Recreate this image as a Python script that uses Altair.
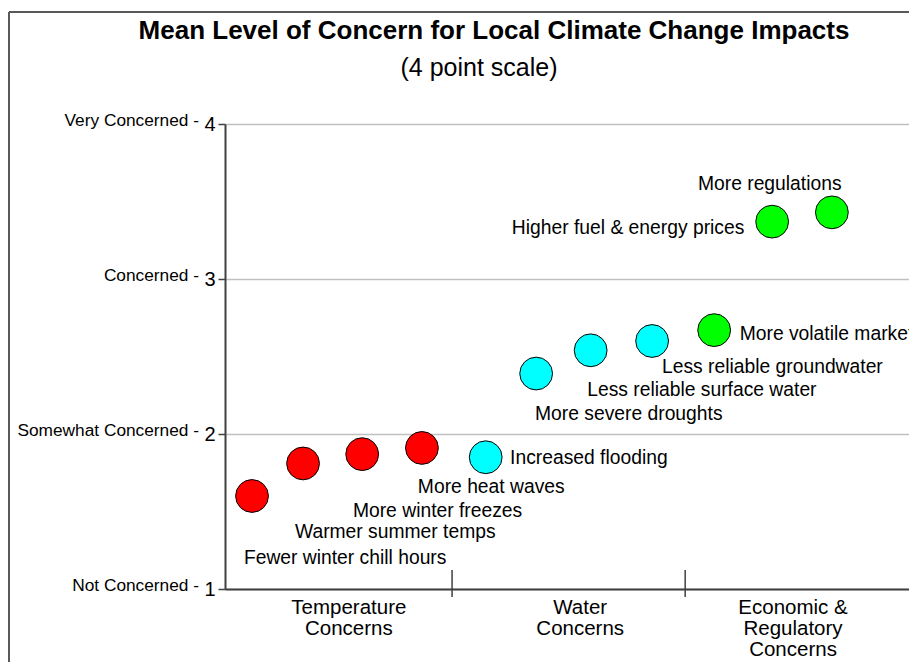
import altair as alt
import pandas as pd

# ---- data ----
title_text = "Mean Level of Concern for Local Climate Change Impacts"
subtitle_text = "(4 point scale)"

concerns = [
    "Fewer winter chill hours", "Warmer summer temps", "More winter freezes",
    "More heat waves", "Increased flooding", "More severe droughts",
    "Less reliable surface water", "Less reliable groundwater",
    "More volatile markets", "Higher fuel & energy prices", "More regulations",
]
groups = ["Temperature"] * 4 + ["Water"] * 4 + ["Economic"] * 3
means = [1.60, 1.81, 1.87, 1.91, 1.85, 2.39, 2.54, 2.60, 2.67, 3.37, 3.43]
positions = [1.0, 1.88, 2.9, 3.93, 5.03, 5.9, 6.84, 7.9, 8.97, 9.97, 11.0]
label_x = [0.86, 1.74, 2.74, 3.86, 5.45, 5.88, 6.78, 8.07, 9.41, 5.48, 8.69]
label_y = [1.203, 1.365, 1.506, 1.655, 1.842, 2.132, 2.287, 2.435, 2.642, 3.332, 3.616]

levels = [1, 2, 3, 4]
level_names = ["Not Concerned -", "Somewhat Concerned -", "Concerned -", "Very Concerned -"]

separators = [4.45, 8.47]
group_names = [["Temperature", "Concerns"], ["Water", "Concerns"],
               ["Economic &", "Regulatory", "Concerns"]]
group_x = [2.67, 6.66, 10.33]

group_domain = ["Temperature", "Water", "Economic"]
group_colors = ["#ff0000", "#00ffff", "#00ff00"]

FONT = "Liberation Sans"
AXIS_COL = "#404040"

df = pd.DataFrame({
    "concern": concerns, "group": groups, "mean": means, "pos": positions,
    "lx": label_x, "ly": label_y,
})
df_levels = pd.DataFrame({"level": levels, "name": level_names})
df_sep = pd.DataFrame({"sep": separators})
df_groups = pd.DataFrame({"gx": group_x, "gname": ["\n".join(g) for g in group_names]})
df_title = pd.DataFrame({"t": [title_text], "s": [subtitle_text]})

xscale = alt.Scale(domain=[0.534, 12.33], nice=False, zero=False)
yscale = alt.Scale(domain=[1, 4], nice=False, zero=False)

x_axis = alt.Axis(labels=False, ticks=False, grid=False, title=None,
                  domainColor=AXIS_COL, domainWidth=2)
y_axis = alt.Axis(values=levels, format="d", title=None, labelFont=FONT,
                  labelFontSize=20, labelColor="black", labelPadding=3,
                  tickSize=7, tickColor=AXIS_COL, tickWidth=1.5,
                  domainColor=AXIS_COL, domainWidth=2,
                  grid=True, gridColor="#c0c0c0", gridWidth=1.5)

points = alt.Chart(df).mark_circle(size=1075, opacity=1, stroke="black",
                                   strokeWidth=1).encode(
    x=alt.X("pos:Q", scale=xscale, axis=x_axis),
    y=alt.Y("mean:Q", scale=yscale, axis=y_axis),
    color=alt.Color("group:N", scale=alt.Scale(domain=group_domain, range=group_colors),
                    legend=None),
)

labels = alt.Chart(df).mark_text(align="left", baseline="middle", fontSize=19.3,
                                 font=FONT, color="black", clip=True).encode(
    x=alt.X("lx:Q", scale=xscale),
    y=alt.Y("ly:Q", scale=yscale),
    text="concern:N",
)

level_text = alt.Chart(df_levels).mark_text(align="right", baseline="middle",
                                            fontSize=17.3, font=FONT, color="black",
                                            dy=-3).encode(
    y=alt.Y("level:Q", scale=yscale),
    x=alt.value(-26),
    text="name:N",
)

seps = alt.Chart(df_sep).mark_rule(color=AXIS_COL, strokeWidth=1.5).encode(
    x=alt.X("sep:Q", scale=xscale),
    y=alt.value(446),
    y2=alt.value(473),
)

group_text = alt.Chart(df_groups).mark_text(align="center", baseline="top",
                                            fontSize=20.5, font=FONT, color="black",
                                            lineBreak="\n", lineHeight=21).encode(
    x=alt.X("gx:Q", scale=xscale),
    y=alt.value(474),
    text="gname:N",
)

title_mark = alt.Chart(df_title).mark_text(align="center", baseline="alphabetic",
                                           fontSize=26, fontWeight="bold",
                                           font=FONT, color="black").encode(
    x=alt.value(269), y=alt.value(-85), text="t:N")
subtitle_mark = alt.Chart(df_title).mark_text(align="center", baseline="alphabetic",
                                              fontSize=25, font=FONT,
                                              color="black").encode(
    x=alt.value(254), y=alt.value(-48), text="s:N")

frame_v = alt.Chart(df_sep).mark_rule(color="#595959", strokeWidth=2).encode(
    x=alt.value(-216), y=alt.value(-112), y2=alt.value(700))
frame_h = alt.Chart(df_sep).mark_rule(color="#595959", strokeWidth=2).encode(
    y=alt.value(-112), x=alt.value(-216), x2=alt.value(800))

chart = alt.layer(
    frame_v, frame_h, title_mark, subtitle_mark,
    points, labels, level_text, seps, group_text
).properties(
    width=684,
    height=465,
    autosize=alt.AutoSizeParams(type="none"),
    padding={"left": 217, "top": 116, "right": 0, "bottom": 73},
).configure_view(strokeWidth=0).configure(font=FONT)

chart.save("out.html", embed_options={"renderer": "svg", "actions": False})
